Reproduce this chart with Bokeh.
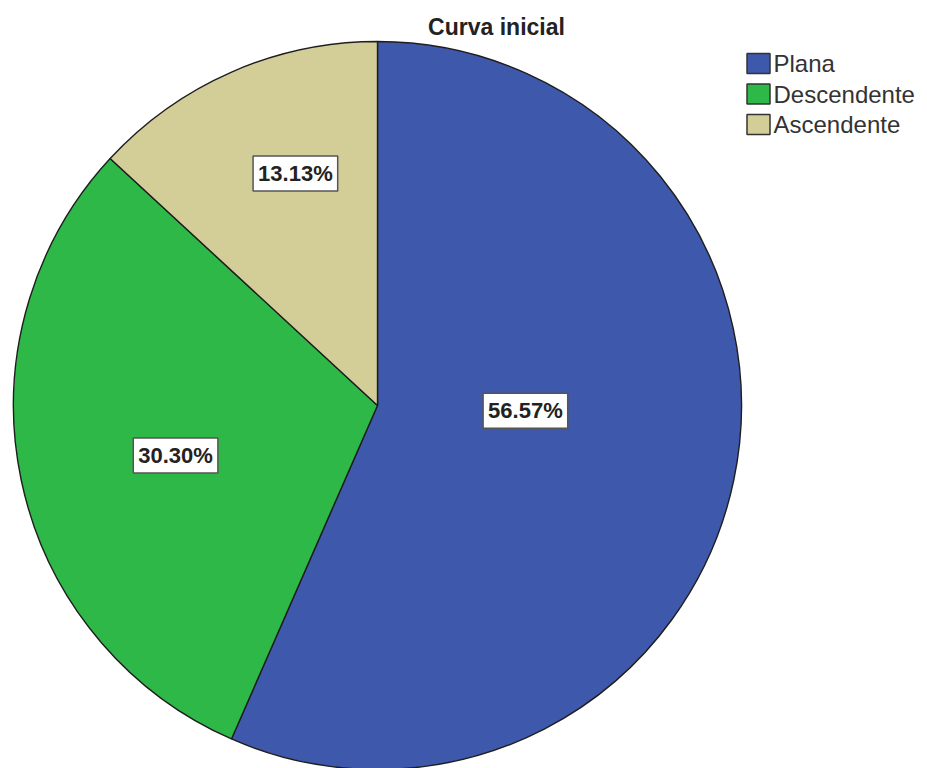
import numpy as np
from bokeh.plotting import figure
from bokeh.models import ColumnDataSource, Range1d
from bokeh.core.properties import value
from bokeh.embed import file_html
from bokeh.resources import INLINE

# Distribution of the initial curve type
categories = ["Plana", "Descendente", "Ascendente"]
percentages = [56.57, 30.30, 13.13]
colors = ["#3E58AC", "#2EB848", "#D3CE97"]
title_text = "Curva inicial"

W, H = 927, 768
cx, cy, R = 377, H - 405, 364

# slices start at 12 o'clock and run clockwise
frac = np.array(percentages) / sum(percentages)
cum = np.concatenate([[0], np.cumsum(frac)])
start = np.pi / 2 - 2 * np.pi * cum[:-1]
end = np.pi / 2 - 2 * np.pi * cum[1:]

pie_src = ColumnDataSource(dict(cat=categories, pct=percentages, color=colors,
                                start=start, end=end))

p = figure(width=W, height=H, x_range=Range1d(0, W), y_range=Range1d(0, H),
           output_backend="svg", toolbar_location=None, min_border=0)
p.axis.visible = False
p.grid.visible = False
p.outline_line_color = None
p.background_fill_color = "white"
p.border_fill_color = "white"

p.wedge(x=cx, y=cy, radius=R, start_angle="start", end_angle="end",
        direction="clock", fill_color="color", line_color="#1e1e1e",
        line_width=1.4, source=pie_src)

# value labels: polar placement (degrees, pixels from centre) per slice
label_angle = np.deg2rad([-2.0, -166.1, 109.5])
label_radius = np.array([148, 208, 246])
lab_src = ColumnDataSource(dict(
    x=cx + label_radius * np.cos(label_angle),
    y=cy + label_radius * np.sin(label_angle),
    txt=[f"{v:.2f}%" for v in percentages]))
p.text(x="x", y="y", text="txt", source=lab_src,
       text_font=value("Liberation Sans"), text_font_style="bold",
       text_font_size="22px", text_color="#222222",
       text_align="center", text_baseline="middle",
       background_fill_color="white", border_line_color="#555555",
       border_line_width=1.5, padding=5)

# title
p.text(x=[496], y=[H - 26], text=[title_text],
       text_font=value("Liberation Sans"), text_font_style="bold",
       text_font_size="23px", text_color="#222222",
       text_align="center", text_baseline="middle")

# legend
idx = np.arange(len(categories))
leg_y = H - (63 + 30.5 * idx)
leg_src = ColumnDataSource(dict(x=np.full(len(idx), 758.0), y=leg_y,
                                tx=np.full(len(idx), 773.0),
                                cat=categories, color=colors))
p.rect(x="x", y="y", width=23, height=20, fill_color="color",
       line_color="#333333", line_width=1.5, source=leg_src)
p.text(x="tx", y="y", text="cat", source=leg_src,
       text_font=value("Liberation Sans"), text_font_size="24px",
       text_color="#333333", text_align="left", text_baseline="middle")

open("out.html", "w").write(file_html(p, INLINE))
